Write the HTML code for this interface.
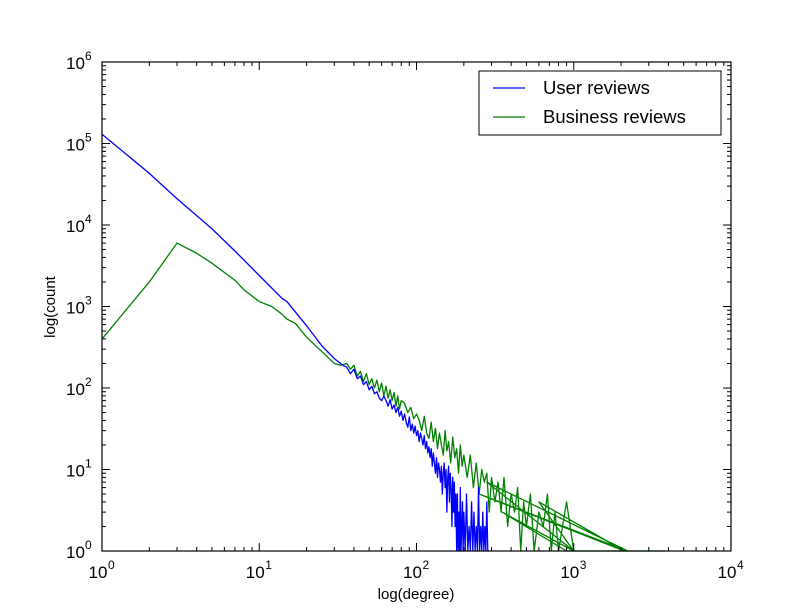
<!DOCTYPE html>
<html><head><meta charset="utf-8"><style>
html,body{margin:0;padding:0;background:#fff;}
svg{display:block;font-family:"Liberation Sans","DejaVu Sans",sans-serif;}
</style></head><body>
<svg id="chart" width="812" height="612">
<rect x="0" y="0" width="812" height="612" fill="#fff"/>
<g id="series"></g>
<g id="axes"></g>
<rect x="102" y="62" width="629" height="489" fill="none" stroke="#000" stroke-width="1.2"/>
<text x="416" y="599" font-size="15" text-anchor="middle">log(degree)</text>
<text x="55" y="307" font-size="15" text-anchor="middle" transform="rotate(-90 55 307)">log(count</text>
<g>
<rect x="479" y="71" width="242" height="64" fill="#fff" stroke="#000" stroke-width="1"/>
<line x1="493" y1="88" x2="525" y2="88" stroke="#0000ff" stroke-width="1.2"/>
<text x="543" y="94" font-size="18.5">User reviews</text>
<line x1="493" y1="117" x2="525" y2="117" stroke="#008000" stroke-width="1.2"/>
<text x="543" y="123" font-size="18.5">Business reviews</text>
</g>
</svg>
<script>
const xDecades=[0,1,2,3,4];
const yDecades=[0,1,2,3,4,5,6];
const userDeg=[1,2,3,5,7,10,14,15,20,25,30,34,
36,38,40,42,44,46,48,50,52,54,56,58,60,
62,64,66,68,70,72,74,76,78,80,82,84,86,88,90,92,94,96,98,100,102,104,106,108,110,112,114,116,118,120,
122,124,126,128,130,132,134,136,138,140,142,144,146,148,150,152,154,156,158,160,162,164,166,168,170,172,174,176,178,180,
182,184,186,188,190,192,194,196,198,200,204,208,212,216,220,224,228,232,236,240,244,248,252,256,260,264,268,272,276,280,284,290];
const userCnt=[130000,43000,21000,9000,4800,2400,1250,1150,580,330,230,190,
180,150,170,130,140,110,120,95,105,85,90,75,70,
80,70,60,72,55,62,50,58,45,52,40,48,38,33,44,30,36,28,34,26,30,22,28,24,20,26,18,22,16,19,
14,18,11,16,12,9,14,8,12,10,7,11,5,9,12,6,10,3,8,11,4,9,6,2,8,3,7,2,5,1,
5,1,3,1,6,1,2,4,1,3,1,5,1,2,1,4,1,3,1,2,1,6,1,2,1,3,1,2,1,4,1,1];
const bizDeg=[1,2,3,4,5,7,8,10,12,14,15,17,20,25,30,33,
36,38,40,42,44,46,48,50,52,54,56,58,60,62,64,66,68,70,72,74,76,78,80,84,88,92,96,100,
104,108,112,116,120,124,128,132,136,140,144,148,152,156,160,165,170,175,180,185,190,195,200,
210,220,230,240,250,260,270,280,290,300,315,330,345,360,380,400,420,440,460,480,500,530,560,600,640,680,720,760,800,900,1000,
280,2200,250,2100,600,1000,350,900,2300,3800];
const bizCnt=[400,2000,6000,4500,3400,2100,1600,1150,1000,800,700,620,420,280,200,190,
200,170,190,140,160,120,150,110,130,100,125,90,115,80,105,75,95,70,88,60,80,55,70,65,50,58,42,48,
40,30,45,28,24,38,22,32,18,28,20,15,30,17,22,12,25,14,18,9,20,11,15,
8,15,6,12,5,10,7,9,3,8,4,7,3,8,2,5,3,6,1,4,2,5,1,3,2,5,1,3,1,4,1,
7,1,5,1,4,1,3,1,1,1];
const X0=102,X1=731,Y0=551,Y1=62;
function xs(v){return X0+Math.log10(v)/4*(X1-X0);}
function ys(v){return Y0-Math.log10(v)/6*(Y0-Y1);}
const NS='http://www.w3.org/2000/svg';
const ser=document.getElementById('series'),ax=document.getElementById('axes');
function mk(t,a,p){const e=document.createElementNS(NS,t);for(const k in a)e.setAttribute(k,a[k]);p.appendChild(e);return e;}
function line(deg,cnt,color,name){
  const n=Math.min(deg.length,cnt.length);
  const pts=deg.slice(0,n).map((d,i)=>xs(d).toFixed(2)+','+ys(cnt[i]).toFixed(2)).join(' ');
  const pl=mk('polyline',{points:pts,fill:'none',stroke:color,'stroke-width':1.3,'stroke-linejoin':'round'},ser);
  
  
}
line(bizDeg,bizCnt,'#008000','business-reviews-line');
line(userDeg,userCnt,'#0000ff','user-reviews-line');
xDecades.forEach(d=>{
  const x=xs(Math.pow(10,d));
  mk('line',{x1:x,y1:Y0,x2:x,y2:Y0-8,stroke:'#000'},ax);
  mk('line',{x1:x,y1:Y1,x2:x,y2:Y1+8,stroke:'#000'},ax);
  const t=mk('text',{x:x-4,y:Y0+27,'font-size':17,'text-anchor':'middle'},ax);
  
  
  t.textContent='10';
  const s=mk('text',{x:x+6,y:Y0+18,'font-size':12},ax);
  s.textContent=String(d);
  if(d<4){for(let m=2;m<10;m++){const xm=xs(m*Math.pow(10,d));
    mk('line',{x1:xm,y1:Y0,x2:xm,y2:Y0-4,stroke:'#000'},ax);
    mk('line',{x1:xm,y1:Y1,x2:xm,y2:Y1+4,stroke:'#000'},ax);}}
});
yDecades.forEach(d=>{
  const y=ys(Math.pow(10,d));
  mk('line',{x1:X0,y1:y,x2:X0+8,y2:y,stroke:'#000'},ax);
  mk('line',{x1:X1,y1:y,x2:X1-8,y2:y,stroke:'#000'},ax);
  const t=mk('text',{x:X0-36,y:y+7,'font-size':17},ax);
  
  
  t.textContent='10';
  const s=mk('text',{x:X0-17,y:y-2,'font-size':12},ax);
  s.textContent=String(d);
  if(d<6){for(let m=2;m<10;m++){const ym=ys(m*Math.pow(10,d));
    mk('line',{x1:X0,y1:ym,x2:X0+4,y2:ym,stroke:'#000'},ax);
    mk('line',{x1:X1,y1:ym,x2:X1-4,y2:ym,stroke:'#000'},ax);}}
});
</script>
</body></html>
